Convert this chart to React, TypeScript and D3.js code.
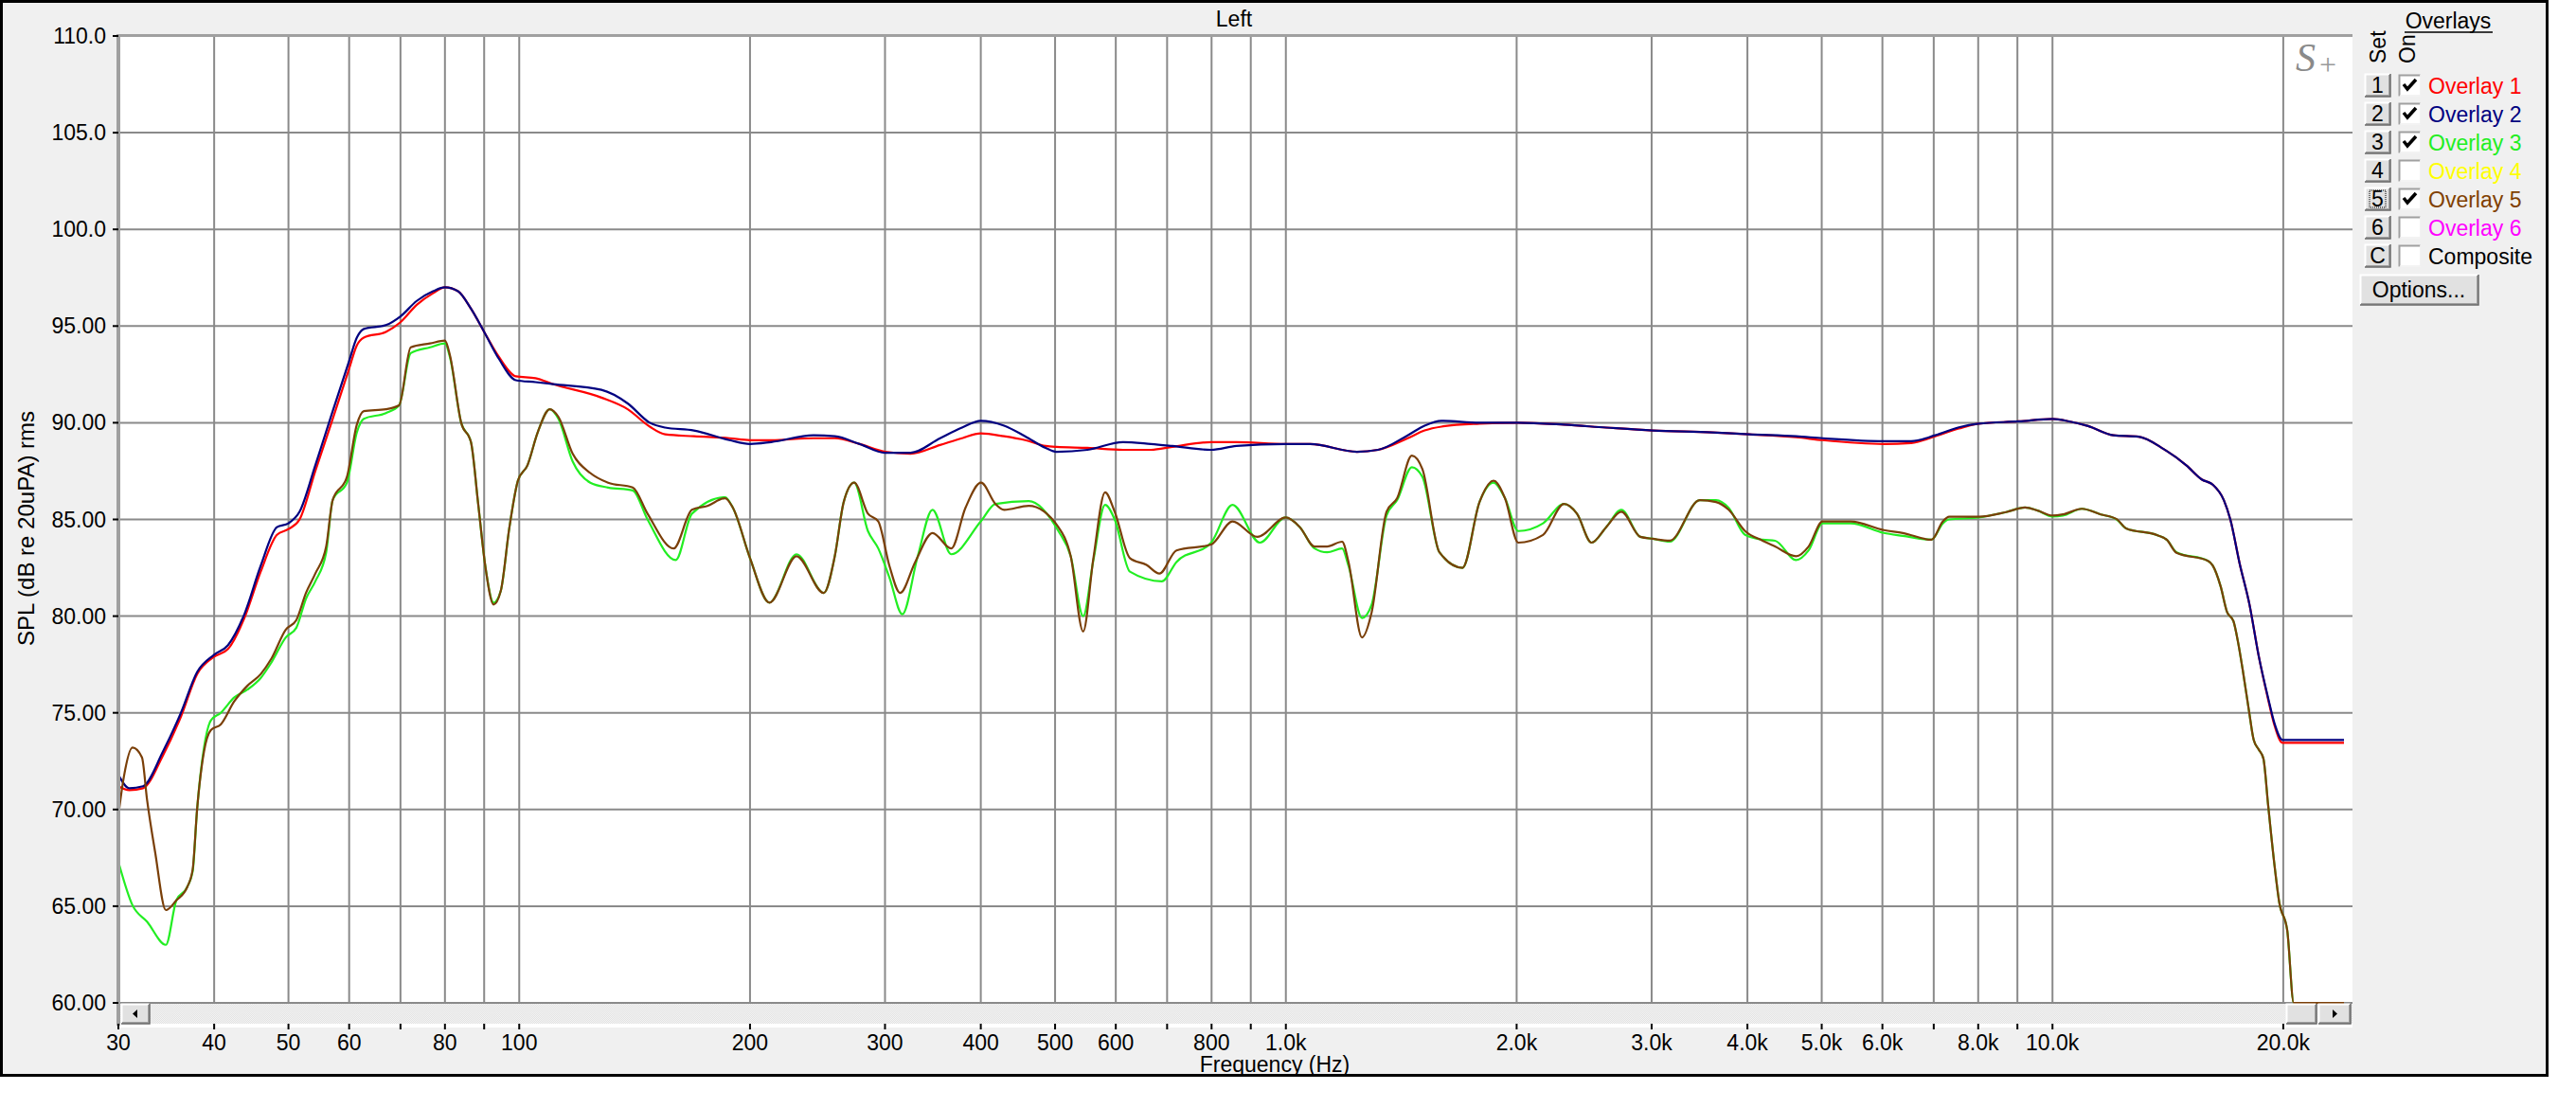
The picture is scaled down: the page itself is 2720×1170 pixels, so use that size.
import React from "react";
import * as d3 from "d3";

// ---------- DATA ----------
const overlay1Freq = [30, 31, 32.3, 34.3, 36.2, 38, 40, 41.7, 43.8, 46, 48.3, 50, 51.7, 54.2, 57, 60, 61.4, 62.7, 67, 70, 73.5, 77.2, 80, 83.2, 86.5, 90, 94.1, 99, 105, 110.6, 128, 138.5, 148, 155, 169, 188, 200, 213, 242, 258, 278, 300, 324, 354, 378, 400, 429, 457, 486, 502, 551, 613, 667, 711, 799, 862, 999, 1076, 1238, 1319, 1442, 1517, 1596, 1789, 2010, 2306, 2617, 3010, 3598, 4022, 4630, 5013, 6025, 6540, 7030, 7548, 8010, 9036, 10000, 10515, 11131, 12007, 12955, 13976, 14946, 15653, 16180, 16730, 17060, 17540, 18070, 18580, 19110, 19480, 19950, 24000];
const overlay1Db = [71.2, 71.0, 71.1, 72.8, 74.8, 77.0, 77.9, 78.3, 79.9, 82.3, 84.2, 84.5, 85.0, 87.5, 90.1, 92.8, 94.0, 94.4, 94.7, 95.2, 96.1, 96.7, 97.0, 96.8, 95.9, 94.7, 93.4, 92.4, 92.3, 92.0, 91.3, 90.7, 89.8, 89.4, 89.3, 89.2, 89.1, 89.1, 89.2, 89.2, 88.9, 88.5, 88.4, 88.85, 89.2, 89.45, 89.3, 89.1, 88.8, 88.75, 88.7, 88.6, 88.6, 88.75, 89.0, 89.0, 88.9, 88.9, 88.5, 88.6, 89.2, 89.6, 89.8, 89.95, 90.0, 89.9, 89.75, 89.6, 89.5, 89.4, 89.25, 89.1, 88.9, 88.95, 89.3, 89.7, 89.95, 90.07, 90.2, 90.07, 89.83, 89.35, 89.28, 88.63, 87.8, 87.07, 86.8, 86.0, 85.0, 82.74, 80.6, 77.93, 75.7, 74.35, 73.45, 73.45];

const overlay2Freq = [30, 31, 32.3, 34.3, 36.2, 38, 40, 41.7, 43.8, 46, 48.3, 50, 51.7, 54.2, 57, 60, 61.4, 62.7, 67, 70, 73.5, 77.2, 80, 83.2, 86.5, 90, 94.1, 99, 105, 110.6, 128, 138.5, 148, 155, 169, 188, 200, 213, 242, 258, 278, 300, 324, 354, 378, 400, 429, 457, 486, 502, 551, 613, 667, 711, 799, 862, 999, 1076, 1238, 1319, 1442, 1517, 1596, 1789, 2010, 2306, 2617, 3010, 3598, 4022, 4630, 5013, 6025, 6540, 7030, 7548, 8010, 9036, 10000, 10515, 11131, 12007, 12955, 13976, 14946, 15653, 16180, 16730, 17060, 17540, 18070, 18580, 19110, 19480, 19950, 24000];
const overlay2Db = [71.8, 71.1, 71.2, 73.0, 75.0, 77.1, 78.0, 78.5, 80.1, 82.6, 84.6, 84.8, 85.4, 87.8, 90.5, 93.2, 94.4, 94.85, 95.05, 95.5, 96.3, 96.8, 97.0, 96.8, 95.9, 94.7, 93.3, 92.2, 92.1, 92.0, 91.7, 91.0, 90.0, 89.75, 89.6, 89.1, 88.9, 89.0, 89.35, 89.3, 88.9, 88.45, 88.45, 89.2, 89.75, 90.1, 89.85, 89.3, 88.7, 88.5, 88.6, 89.0, 88.9, 88.8, 88.6, 88.8, 88.9, 88.9, 88.5, 88.6, 89.35, 89.85, 90.1, 90.0, 90.0, 89.9, 89.75, 89.6, 89.5, 89.4, 89.3, 89.2, 89.05, 89.05, 89.35, 89.76, 89.95, 90.07, 90.2, 90.07, 89.83, 89.35, 89.28, 88.63, 87.8, 87.07, 86.8, 86.0, 85.0, 82.74, 80.6, 77.93, 75.77, 74.45, 73.6, 73.6];

const overlay3Freq = [30, 31.3, 32.7, 34.6, 35.7, 36.9, 37.5, 38, 38.8, 39.6, 40.8, 42.5, 44.2, 46, 47.5, 49.6, 51.2, 52.7, 54.2, 56, 57.1, 59.6, 61.4, 62.7, 67, 69.7, 72.2, 76.5, 80, 81.2, 84, 86.5, 88.4, 90.3, 92.6, 94.6, 97.1, 99.6, 102.5, 105.7, 109.6, 112.5, 117.4, 123.8, 130.6, 140.6, 147, 160, 168, 185.6, 190, 200, 212, 230, 249.6, 258, 265, 273.5, 285, 294, 304, 316, 331, 346, 366, 400, 418, 462, 505, 524, 544, 561, 581, 598, 626, 689, 720, 799, 852, 925, 999, 1043, 1090, 1132, 1184, 1207, 1257, 1294, 1353, 1397, 1460, 1507, 1586, 1700, 1789, 1866, 1931, 2010, 2165, 2306, 2397, 2505, 2617, 2739, 2900, 3010, 3167, 3467, 3640, 3781, 3972, 4187, 4346, 4630, 4807, 5013, 5453, 6025, 6380, 6953, 7195, 7330, 8010, 8700, 9208, 9564, 10000, 10318, 10923, 11562, 12125, 12475, 13710, 14103, 14514, 15950, 16180, 16570, 16890, 17220, 17460, 17710, 18050, 18300, 18580, 18840, 19110, 19480, 19760, 20240, 20640, 24000];
const overlay3Db = [67.3, 65.05, 64.2, 63.0, 65.3, 66.0, 66.8, 70.0, 73.2, 74.6, 75.0, 75.8, 76.2, 76.8, 77.6, 78.9, 79.4, 80.9, 81.8, 83.3, 86.0, 86.9, 89.5, 90.2, 90.5, 90.9, 93.6, 93.9, 94.1, 93.4, 90.0, 89.0, 85.8, 82.6, 80.7, 81.3, 84.6, 87.0, 87.8, 89.5, 90.7, 90.2, 88.0, 86.9, 86.65, 86.5, 85.0, 82.9, 85.3, 86.15, 85.6, 83.0, 80.7, 83.2, 81.2, 83.1, 85.9, 86.9, 84.4, 83.5, 82.0, 80.1, 83.1, 85.5, 83.2, 84.9, 85.8, 85.95, 84.4, 83.1, 80.0, 82.9, 85.75, 85.0, 82.3, 81.8, 82.8, 83.8, 85.75, 83.8, 85.1, 84.6, 83.5, 83.3, 83.5, 82.6, 79.9, 80.6, 85.2, 86.0, 87.7, 87.2, 83.3, 82.5, 85.9, 86.9, 86.1, 84.4, 84.8, 85.8, 85.3, 83.8, 84.6, 85.5, 84.1, 84.0, 83.85, 86.0, 86.0, 85.6, 84.2, 83.95, 83.9, 82.9, 83.4, 84.8, 84.8, 84.3, 84.15, 83.95, 84.8, 85.0, 85.1, 85.38, 85.62, 85.46, 85.15, 85.2, 85.55, 85.26, 85.0, 84.54, 84.18, 83.94, 83.3, 82.86, 82.62, 81.54, 80.22, 79.74, 78.65, 77.2, 75.05, 73.6, 73.1, 72.64, 70.24, 67.12, 65.2, 63.75, 60.0, 60.0];

const overlay5Freq = [30, 30.5, 31.3, 32.2, 32.7, 33.5, 34.6, 35.7, 36.9, 37.5, 38, 38.8, 39.6, 40.8, 42.5, 44.2, 46, 47.5, 49.6, 51.2, 52.7, 54.2, 56, 57.1, 59.6, 61.4, 62.7, 67, 69.7, 72.2, 76.5, 80, 81.2, 84, 86.5, 88.4, 90.3, 92.6, 94.6, 97.1, 99.6, 102.5, 105.7, 109.6, 112.5, 117.4, 123.8, 130.6, 140.6, 147, 159, 168, 176, 185.6, 190, 200, 212, 230, 249.6, 258, 265, 273.5, 285, 294, 304, 314, 328.5, 346, 366, 382, 400.3, 418, 429, 462, 505, 524, 544, 561, 581, 598, 626, 658, 684, 720, 799, 852, 918, 1000, 1043, 1090, 1132, 1184, 1207, 1257, 1294, 1353, 1397, 1460, 1507, 1586, 1700, 1789, 1866, 1931, 2010, 2165, 2306, 2397, 2505, 2617, 2739, 2900, 3010, 3167, 3467, 3640, 3781, 3972, 4187, 4346, 4630, 4807, 5013, 5453, 6025, 6380, 6953, 7195, 7330, 8010, 8700, 9208, 9564, 10000, 10318, 10923, 11562, 12125, 12475, 13710, 14103, 14514, 15950, 16180, 16570, 16890, 17220, 17460, 17710, 18050, 18300, 18580, 18840, 19110, 19480, 19760, 20240, 20640, 24000];
const overlay5Db = [69.7, 71.7, 73.2, 72.7, 70.5, 67.8, 64.8, 65.3, 66.0, 66.9, 70.0, 73.0, 74.1, 74.4, 75.6, 76.4, 77.0, 77.8, 79.3, 79.8, 81.2, 82.2, 83.6, 86.0, 87.2, 89.9, 90.6, 90.7, 90.9, 93.9, 94.1, 94.25, 93.5, 90.0, 89.0, 85.8, 82.6, 80.6, 81.3, 84.6, 87.0, 87.8, 89.5, 90.7, 90.3, 88.4, 87.4, 86.9, 86.65, 85.3, 83.5, 85.5, 85.7, 86.1, 85.6, 83.0, 80.7, 83.1, 81.2, 83.1, 85.9, 86.9, 85.3, 84.9, 82.6, 81.2, 82.8, 84.3, 83.5, 85.6, 86.9, 85.8, 85.5, 85.7, 84.6, 83.1, 79.2, 83.0, 86.4, 85.4, 83.0, 82.65, 82.2, 83.4, 83.7, 84.9, 84.1, 85.1, 84.6, 83.6, 83.6, 83.85, 82.8, 78.9, 80.2, 85.4, 86.1, 88.3, 87.6, 83.3, 82.5, 85.9, 87.0, 86.1, 83.8, 84.2, 85.8, 85.3, 83.8, 84.6, 85.4, 84.1, 84.0, 83.9, 86.0, 85.9, 85.5, 84.4, 83.9, 83.6, 83.1, 83.6, 84.9, 84.9, 84.45, 84.3, 83.95, 84.9, 85.14, 85.14, 85.38, 85.62, 85.46, 85.2, 85.26, 85.55, 85.26, 85.02, 84.54, 84.18, 83.94, 83.27, 82.86, 82.62, 81.54, 80.22, 79.74, 78.65, 77.2, 75.05, 73.6, 73.1, 72.64, 70.24, 67.12, 65.2, 63.75, 60.0, 60.0];

const gridFreqs = [40, 50, 60, 70, 80, 90, 100, 200, 300, 400, 500, 600, 700, 800, 900, 1000, 2000, 3000, 4000, 5000, 6000, 7000, 8000, 9000, 10000, 20000];
const tickFreqs = [30, 40, 50, 60, 70, 80, 90, 100, 200, 300, 400, 500, 600, 700, 800, 900, 1000, 2000, 3000, 4000, 5000, 6000, 7000, 8000, 9000, 10000, 20000];
const labelFreqs = [30, 40, 50, 60, 80, 100, 200, 300, 400, 500, 600, 800, 1000, 2000, 3000, 4000, 5000, 6000, 8000, 10000, 20000];
const labelTexts = ["30", "40", "50", "60", "80", "100", "200", "300", "400", "500", "600", "800", "1.0k", "2.0k", "3.0k", "4.0k", "5.0k", "6.0k", "8.0k", "10.0k", "20.0k"];

const yTickValues = [110, 105, 100, 95, 90, 85, 80, 75, 70, 65, 60];
const yTickLabels = ["110.0", "105.0", "100.0", "95.00", "90.00", "85.00", "80.00", "75.00", "70.00", "65.00", "60.00"];

const legendSet = ["1", "2", "3", "4", "5", "6", "C"];
const legendLabels = ["Overlay 1", "Overlay 2", "Overlay 3", "Overlay 4", "Overlay 5", "Overlay 6", "Composite"];
const legendColors = ["#ff0000", "#000080", "#22ee22", "#ffff00", "#804000", "#ff00ff", "#000000"];
const legendChecked = [true, true, true, false, true, false, false];

const FONT = "'Liberation Sans', Arial, sans-serif";

function Btn3D({ x, y, w, h }: { x: number; y: number; w: number; h: number }) {
  return (
    <g>
      <rect x={x} y={y} width={w} height={h} fill="#e1e1e1" />
      <path d={`M${x + 0.5},${y + h - 0.5} V${y + 0.5} H${x + w - 0.5}`} stroke="#ffffff" strokeWidth={2} fill="none" />
      <path d={`M${x + 1},${y + h - 1} H${x + w - 1} V${y + 1}`} stroke="#a0a0a0" strokeWidth={2} fill="none" />
      <path d={`M${x},${y + h} H${x + w} V${y}`} stroke="#696969" strokeWidth={1.5} fill="none" />
    </g>
  );
}

export default function App() {
  const x = d3.scaleLog().domain([30, 24000]).range([125, 2475]);
  const y = d3.scaleLinear().domain([60, 110]).range([1059, 38]);
  const line = d3
    .line<[number, number]>()
    .x((d) => x(d[0]))
    .y((d) => y(d[1]))
    .curve(d3.curveMonotoneX);
  const zip = (f: number[], v: number[]) => f.map((ff, i) => [ff, v[i]] as [number, number]);

  const series = [
    { data: zip(overlay1Freq, overlay1Db), color: legendColors[0] },
    { data: zip(overlay2Freq, overlay2Db), color: legendColors[1] },
    { data: zip(overlay3Freq, overlay3Db), color: legendColors[2] },
    { data: zip(overlay5Freq, overlay5Db), color: "#7a3f08" },
  ];

  const plotL = 125, plotR = 2484, plotT = 38, plotB = 1059;

  return (
    <div style={{ position: "absolute", left: 0, top: 0, width: 2720, height: 1170, background: "#fff" }}>
      <svg width={2720} height={1170} style={{ display: "block" }}>
        <defs>
          <pattern id="dots" width={2} height={2} patternUnits="userSpaceOnUse">
            <rect width={2} height={2} fill="#f4f4f4" />
            <rect width={1} height={1} fill="#e2e2e2" />
            <rect x={1} y={1} width={1} height={1} fill="#e2e2e2" />
          </pattern>
          <clipPath id="plotClip">
            <rect x={plotL} y={plotT - 2} width={plotR - plotL} height={plotB - plotT + 4} />
          </clipPath>
        </defs>

        {/* outer frame */}
        <rect x={1.5} y={1.5} width={2688} height={1134} fill="#f0f0f0" stroke="#000" strokeWidth={3} />

        {/* plot background */}
        <rect x={plotL} y={plotT} width={plotR - plotL} height={1085 - plotT} fill="#ffffff" />

        {/* title */}
        <text x={1303} y={20} fontFamily={FONT} fontSize={23} textAnchor="middle" dominantBaseline="central" fill="#000">Left</text>

        {/* horizontal grid */}
        {yTickValues.map((v) => (
          <line key={"h" + v} x1={plotL} x2={plotR} y1={y(v)} y2={y(v)} stroke="#8a8a8a" strokeWidth={2} />
        ))}
        {/* vertical grid */}
        {gridFreqs.map((f) => (
          <line key={"v" + f} x1={x(f)} x2={x(f)} y1={plotT} y2={plotB} stroke="#8a8a8a" strokeWidth={2} />
        ))}

        {/* S+ logo */}
        <text x={2424} y={75} fontFamily="'Liberation Serif', 'Times New Roman', serif" fontStyle="italic" fontSize={42} fill="#8a8a8a">S</text>
        <text x={2449} y={79} fontFamily="'Liberation Serif', 'Times New Roman', serif" fontSize={32} fill="#9a9a9a">+</text>

        {/* curves */}
        <g clipPath="url(#plotClip)">
          {series.map((s, i) => (
            <path key={"s" + i} d={line(s.data) || ""} fill="none" stroke={s.color} strokeWidth={2.2} strokeLinejoin="round" />
          ))}
        </g>

        {/* scrollbar */}
        <rect x={plotL} y={1060} width={plotR - plotL} height={21} fill="url(#dots)" />
        <Btn3D x={128} y={1060} w={30} h={21} />
        <path d="M140,1070.5 L145,1066 L145,1075 Z" fill="#000" />
        <Btn3D x={2414} y={1060} w={32} h={21} />
        <Btn3D x={2448} y={1060} w={34} h={21} />
        <path d="M2468,1070.5 L2463,1066 L2463,1075 Z" fill="#000" />

        {/* plot borders (gray thick) */}
        <rect x={123} y={36} width={plotR - 123} height={3} fill="#a0a0a0" />
        <rect x={123} y={36} width={4} height={1083 - 36} fill="#a0a0a0" />

        {/* y ticks and labels */}
        {yTickValues.map((v, i) => (
          <g key={"yt" + v}>
            <line x1={119} x2={125} y1={y(v)} y2={y(v)} stroke="#000" strokeWidth={2} />
            <text x={112} y={y(v)} fontFamily={FONT} fontSize={23} textAnchor="end" dominantBaseline="central" fill="#000">
              {yTickLabels[i]}
            </text>
          </g>
        ))}

        {/* x ticks */}
        {tickFreqs.map((f) => (
          <line key={"xt" + f} x1={x(f)} x2={x(f)} y1={1081} y2={1087} stroke="#000" strokeWidth={2} />
        ))}
        {labelFreqs.map((f, i) => (
          <text key={"xl" + f} x={x(f)} y={1101} fontFamily={FONT} fontSize={23} textAnchor="middle" dominantBaseline="central" fill="#000">
            {labelTexts[i]}
          </text>
        ))}

        {/* axis titles */}
        <text x={1346} y={1124} fontFamily={FONT} fontSize={23} textAnchor="middle" dominantBaseline="central" fill="#000">Frequency (Hz)</text>
        <text transform="translate(27,558) rotate(-90)" fontFamily={FONT} fontSize={24} textAnchor="middle" dominantBaseline="central" fill="#000">SPL (dB re 20uPA) rms</text>

        {/* legend panel */}
        <text x={2585} y={22} fontFamily={FONT} fontSize={23} textAnchor="middle" dominantBaseline="central" fill="#000">Overlays</text>
        <line x1={2539} x2={2632} y1={34} y2={34} stroke="#000" strokeWidth={1.5} />
        <text transform="translate(2511,67) rotate(-90)" fontFamily={FONT} fontSize={23} textAnchor="start" dominantBaseline="central" fill="#000">Set</text>
        <text transform="translate(2542,67) rotate(-90)" fontFamily={FONT} fontSize={23} textAnchor="start" dominantBaseline="central" fill="#000">On</text>

        {legendLabels.map((lab, i) => {
          const cy = 90 + i * 30;
          return (
            <g key={"lg" + i}>
              <Btn3D x={2497} y={cy - 12} w={27} h={24} />
              <text x={2510.5} y={cy} fontFamily={FONT} fontSize={23} textAnchor="middle" dominantBaseline="central" fill="#000">
                {legendSet[i]}
              </text>
              {i === 4 && (
                <rect x={2502} y={cy - 9} width={17} height={18} fill="none" stroke="#000" strokeWidth={1} strokeDasharray="1,1" />
              )}
              <rect x={2533} y={cy - 11} width={23} height={23} fill="#ffffff" />
              <path d={`M${2533.5},${cy + 11.5} V${cy - 10.5} H${2555.5}`} stroke="#a0a0a0" strokeWidth={2} fill="none" />
              <path d={`M${2534},${cy + 11} H${2556} V${cy - 11}`} stroke="#f0f0f0" strokeWidth={1.5} fill="none" />
              {legendChecked[i] && (
                <path d={`M${2538},${cy - 1} L${2542},${cy + 4} L${2551},${cy - 6}`} stroke="#000" strokeWidth={3.5} fill="none" />
              )}
              <text x={2564} y={cy + 1} fontFamily={FONT} fontSize={23} dominantBaseline="central" fill={legendColors[i]}>
                {lab}
              </text>
            </g>
          );
        })}

        <Btn3D x={2492} y={290} w={125} h={32} />
        <text x={2554} y={306} fontFamily={FONT} fontSize={23} textAnchor="middle" dominantBaseline="central" fill="#000">Options...</text>
      </svg>
    </div>
  );
}
